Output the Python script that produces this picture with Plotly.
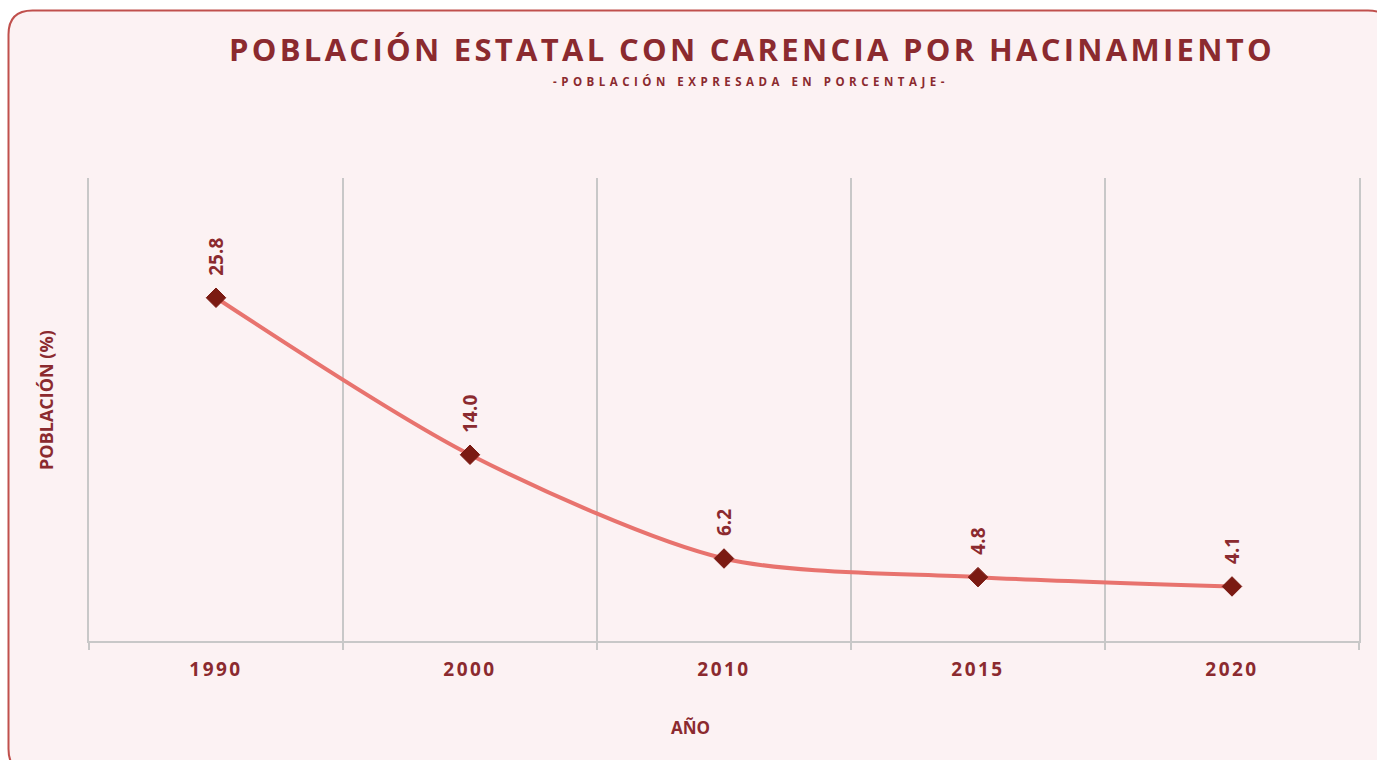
import plotly.graph_objects as go

years = ["1990", "2000", "2010", "2015", "2020"]
values = [25.8, 14.0, 6.2, 4.8, 4.1]
value_labels = ["25.8", "14.0", "6.2", "4.8", "4.1"]

TITLE = "POBLACIÓN ESTATAL CON CARENCIA POR HACINAMIENTO"
SUBTITLE = "-POBLACIÓN EXPRESADA EN PORCENTAJE-"
Y_TITLE = "POBLACIÓN (%)"
X_TITLE = "AÑO"

OFF = 0  # body margin removed via post_script
WIN_W, WIN_H = 1377, 760
W, H = WIN_W - OFF, WIN_H - OFF
# plot area in window coordinates: x 89..1359, y 178..641
L, T = 89 - OFF, 178 - OFF
R = WIN_W - 1359
B = WIN_H - 641
PW, PH = W - L - R, H - T - B

DARK = "#8B2A2F"
FONT = "Open Sans"


def px(x):
    return (x - OFF - L) / PW


def py(y):
    return (H - B - (y - OFF)) / PH


fig = go.Figure()
fig.add_trace(go.Scatter(
    x=years, y=values, mode="lines+markers",
    line=dict(color="#E8736E", width=4, shape="spline", smoothing=0.8),
    marker=dict(symbol="diamond", size=15, color="#7B1A12",
                line=dict(color="#7B1A12", width=1)),
    hoverinfo="x+y", showlegend=False,
))

for i, (v, lab) in enumerate(zip(values, value_labels)):
    fig.add_annotation(
        x=i, y=v, text="<b>%s</b>" % lab, textangle=-90, showarrow=False,
        xanchor="center", yanchor="bottom", yshift=20,
        font=dict(family=FONT, size=19, color=DARK),
    )

# rounded border rectangle (window coordinates)
x0, y0, x1, y1, r = 8.5, 10.5, 1392, 773, 24
path = (
    f"M {px(x0)},{py(y0 + r)} "
    f"Q {px(x0)},{py(y0)} {px(x0 + r)},{py(y0)} "
    f"L {px(x1 - r)},{py(y0)} "
    f"Q {px(x1)},{py(y0)} {px(x1)},{py(y0 + r)} "
    f"L {px(x1)},{py(y1 - r)} "
    f"Q {px(x1)},{py(y1)} {px(x1 - r)},{py(y1)} "
    f"L {px(x0 + r)},{py(y1)} "
    f"Q {px(x0)},{py(y1)} {px(x0)},{py(y1 - r)} Z"
)
fig.add_shape(type="path", path=path, xref="paper", yref="paper",
              fillcolor="#FCF2F3", line=dict(color="#C0504D", width=2),
              layer="below")

fig.add_annotation(
    x=px(752), y=py(49), xref="paper", yref="paper", showarrow=False,
    text='<span style="letter-spacing:3.3px"><b>%s</b></span>' % TITLE,
    font=dict(family=FONT, size=31, color=DARK), xanchor="center", yanchor="middle",
)
fig.add_annotation(
    x=px(751), y=py(82), xref="paper", yref="paper", showarrow=False,
    text='<span style="letter-spacing:4.5px"><b>%s</b></span>' % SUBTITLE,
    font=dict(family=FONT, size=11.5, color=DARK), xanchor="center", yanchor="middle",
)
fig.add_annotation(
    x=px(46), y=py(400), xref="paper", yref="paper", showarrow=False,
    text="<b>%s</b>" % Y_TITLE, textangle=-90,
    font=dict(family=FONT, size=18, color=DARK), xanchor="center", yanchor="middle",
)
fig.add_annotation(
    x=px(690), y=py(727), xref="paper", yref="paper", showarrow=False,
    text="<b>%s</b>" % X_TITLE,
    font=dict(family=FONT, size=17, color=DARK), xanchor="center", yanchor="middle",
)

fig.update_layout(
    width=W, height=H,
    margin=dict(l=L, r=R, t=T, b=B, pad=0),
    paper_bgcolor="white", plot_bgcolor="rgba(0,0,0,0)",
    xaxis=dict(
        type="category", tickson="boundaries", showgrid=True,
        gridcolor="#C8C8C8", gridwidth=2,
        showline=True, linecolor="#C8C8C8", linewidth=2,
        ticks="outside", ticklen=7, tickwidth=2, tickcolor="#C8C8C8",
        tickvals=years,
        ticktext=['<span style="letter-spacing:2.5px"><b>%s</b></span>' % y for y in years],
        tickfont=dict(family=FONT, size=19, color=DARK),
        ticklabelstandoff=10,
        range=[-0.5, 4.5], zeroline=False,
    ),
    yaxis=dict(
        range=[0, 34.8], showgrid=False, showticklabels=False, zeroline=False,
        showline=True, mirror=True, linecolor="#C8C8C8", linewidth=2, ticks="",
    ),
)

fig.write_html(
    "out.html",
    config={"displayModeBar": False},
    post_script="document.body.style.margin='0';document.body.style.overflow='hidden';",
)
